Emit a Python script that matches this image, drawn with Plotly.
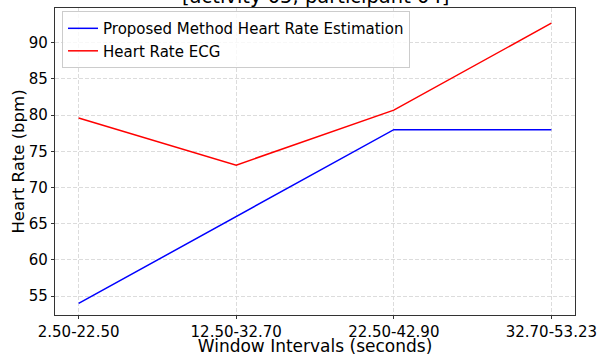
import plotly.graph_objects as go

categories = ["2.50-22.50", "12.50-32.70", "22.50-42.90", "32.70-53.23"]
proposed_hr = [54.0, 66.0, 78.0, 78.0]
ecg_hr = [79.6, 73.1, 80.7, 92.7]

font = "DejaVu Sans"
fig = go.Figure()
fig.add_trace(go.Scatter(x=list(range(len(categories))), y=proposed_hr, mode="lines",
                         name="Proposed Method Heart Rate Estimation",
                         line=dict(color="blue", width=1.5)))
fig.add_trace(go.Scatter(x=list(range(len(categories))), y=ecg_hr, mode="lines",
                         name="Heart Rate ECG",
                         line=dict(color="red", width=1.5)))

grid = dict(showgrid=True, gridcolor="#dcdcdc", griddash="4px,2px", gridwidth=0.8,
            showline=True, linecolor="#333333", linewidth=1.2, mirror=True,
            ticks="outside", ticklen=3, tickcolor="#333333", zeroline=False,
            automargin=False,
            tickfont=dict(family=font, size=15, color="black"))

fig.update_layout(
    width=598, height=356,
    margin=dict(l=55, r=23, t=8, b=41),
    plot_bgcolor="white", paper_bgcolor="white",
    showlegend=True,
    legend=dict(x=0.0135, y=0.99, xanchor="left", yanchor="top",
                bgcolor="rgba(255,255,255,0.8)", bordercolor="#cccccc", borderwidth=1,
                font=dict(family=font, size=15, color="black"), tracegroupgap=0,
                itemwidth=30),
    xaxis=dict(grid, tickmode="array", tickvals=list(range(len(categories))), ticktext=categories,
               range=[-0.15, 3.15],
               title=dict(text="Window Intervals (seconds)", font=dict(family=font, size=17, color="black"), standoff=2)),
    yaxis=dict(grid, range=[52.4, 94.8], dtick=5,
               title=dict(text="Heart Rate (bpm)", font=dict(family=font, size=16.5, color="black"), standoff=0)),
)
fig.add_annotation(text="[activity 05, participant 04]", xref="paper", yref="paper",
                   x=0.5, y=1, xanchor="center", yanchor="bottom", yshift=-2,
                   showarrow=False, font=dict(family=font, size=19.5, color="black"))
# remove the default page margin so the 598x356 figure fills the window exactly
fig.write_html("out.html", config={"displayModeBar": False},
               post_script="document.body.style.margin='0';")
